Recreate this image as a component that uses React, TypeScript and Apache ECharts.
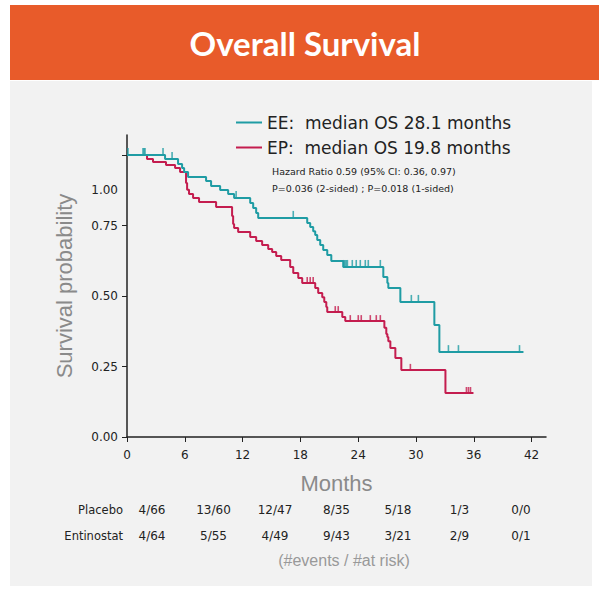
import React, { useEffect, useRef } from "react";
import * as echarts from "echarts";

// ---- Data ----
const eeName = "EE:  median OS 28.1 months";
const epName = "EP:  median OS 19.8 months";

// Kaplan-Meier step times (months) and survival after each step
const eeTimes = [0, 3.95, 5.3, 5.72, 5.93, 6.34, 8.21, 8.73, 9.67, 10.5, 11.12, 12.79, 13.1, 13.41, 13.62, 18.71, 19.02, 19.33, 19.54, 19.75, 20.06, 20.37, 20.79, 21.21, 22.45, 26.61, 27.03, 27.13, 28.38, 31.91, 32.43];
const eeSurv = [1.0, 0.986, 0.968, 0.954, 0.94, 0.922, 0.908, 0.89, 0.876, 0.862, 0.848, 0.83, 0.812, 0.794, 0.777, 0.759, 0.745, 0.73, 0.716, 0.699, 0.681, 0.663, 0.645, 0.624, 0.603, 0.567, 0.546, 0.528, 0.479, 0.397, 0.301];
const eeEnd = 41.16;
const eeCensor = [0.1, 1.66, 1.77, 1.87, 3.74, 4.68, 11.33, 17.26, 22.5, 22.62, 22.75, 22.88, 23.39, 23.8, 24.22, 24.74, 25.05, 26.3, 29.52, 30.25, 33.37, 34.41, 40.75];

const epTimes = [0, 2.08, 2.7, 4.05, 4.99, 5.51, 6.13, 6.24, 6.44, 6.86, 7.48, 9.25, 10.91, 11.02, 11.12, 11.54, 12.79, 13.41, 14.03, 14.66, 15.07, 15.49, 16.01, 16.94, 17.26, 17.78, 18.19, 19.54, 19.85, 20.27, 20.48, 20.69, 20.79, 22.35, 22.66, 26.72, 26.92, 27.03, 27.13, 27.34, 27.86, 28.48, 33.06];
const epSurv = [1.0, 0.986, 0.975, 0.965, 0.954, 0.94, 0.901, 0.877, 0.862, 0.848, 0.833, 0.816, 0.784, 0.755, 0.741, 0.727, 0.709, 0.695, 0.681, 0.667, 0.656, 0.642, 0.628, 0.603, 0.582, 0.564, 0.546, 0.528, 0.511, 0.496, 0.479, 0.461, 0.443, 0.426, 0.411, 0.387, 0.365, 0.355, 0.34, 0.316, 0.28, 0.238, 0.156];
const epEnd = 35.97;
const epCensor = [18.71, 19.02, 19.33, 21.62, 21.93, 23.18, 24.01, 24.32, 25.26, 25.88, 26.3, 29.42, 35.24, 35.45, 35.66];

const xTicks = [0, 6, 12, 18, 24, 30, 36, 42];
const yTicks = [0, 0.25, 0.5, 0.75, 1.0];
const yLabelValues = [0, 0.25, 0.5, 0.75, 0.875];
const yLabelTexts = ["0.00", "0.25", "0.50", "0.75", "1.00"];

const riskRows = ["Placebo", "Entinostat"];
const placeboRisk = ["4/66", "13/60", "12/47", "8/35", "5/18", "1/3", "0/0"];
const entinostatRisk = ["4/64", "5/55", "4/49", "9/43", "3/21", "2/9", "0/1"];

const hrText = "Hazard Ratio 0.59 (95% CI: 0.36, 0.97)";
const pText = "P=0.036 (2-sided) ; P=0.018 (1-sided)";

const TEAL = "#1f9ca4";
const RED = "#c41d4f";

function stepAt(times: number[], surv: number[], t: number) {
  let s = surv[0];
  for (let i = 0; i < times.length; i++) {
    if (times[i] <= t) s = surv[i];
  }
  return s;
}

function curve(times: number[], surv: number[], end: number) {
  const d = times.map((t, i) => [t, surv[i]]);
  d.push([end, surv[surv.length - 1]]);
  return d;
}

export default function App() {
  const ref = useRef<HTMLDivElement>(null);
  useEffect(() => {
    if (!ref.current) return;
    const chart = echarts.init(ref.current, undefined, { renderer: "svg" });
    const font = "DejaVu Sans";
    const riskGraphics: any[] = [];
    const rowsData = [placeboRisk, entinostatRisk];
    const rowY = [510, 536];
    riskRows.forEach((r, ri) => {
      riskGraphics.push({
        type: "text",
        x: 123,
        y: rowY[ri],
        style: { text: r, fill: "#222", font: `11.5px '${font}'`, align: "right", verticalAlign: "middle" },
      });
      rowsData[ri].forEach((v, i) => {
        riskGraphics.push({
          type: "text",
          x: 152 + i * 61.5,
          y: rowY[ri],
          style: { text: v, fill: "#222", font: `12px '${font}'`, align: "center", verticalAlign: "middle" },
        });
      });
    });

    chart.setOption({
      animation: false,
      backgroundColor: "#ffffff",
      graphic: [
        { type: "rect", z: -10, shape: { x: 10, y: 5, width: 589, height: 75 }, style: { fill: "#e85b2a" } },
        {
          type: "text", z: -5, x: 305, y: 43,
          style: { text: "Overall Survival", fill: "#ffffff", font: "bold 33px 'Lato'", align: "center", verticalAlign: "middle" },
        },
        { type: "rect", z: -10, shape: { x: 10, y: 81, width: 582, height: 505 }, style: { fill: "#f2f2f2" } },
        { type: "text", x: 272, y: 171, style: { text: hrText, fill: "#222", font: "9.5px 'DejaVu Sans'", verticalAlign: "middle" } },
        { type: "text", x: 272, y: 188, style: { text: pText, fill: "#222", font: "9.5px 'DejaVu Sans'", verticalAlign: "middle" } },
        {
          type: "text", x: 344, y: 560,
          style: { text: "(#events / #at risk)", fill: "#999", font: "16px 'Liberation Sans'", align: "center", verticalAlign: "middle" },
        },
        ...riskGraphics,
      ],
      legend: {
        data: [eeName, epName],
        orient: "vertical",
        left: 236,
        top: 114,
        padding: 0,
        itemGap: 8,
        itemWidth: 26,
        itemHeight: 2,
        icon: "rect",
        textStyle: { fontSize: 17, fontFamily: font, color: "#222" },
      },
      grid: { left: 127, right: 53, top: 135, bottom: 153 },
      xAxis: {
        type: "value",
        min: 0,
        max: 43.5,
        name: "Months",
        nameLocation: "middle",
        nameGap: 35,
        nameTextStyle: { fontSize: 22, color: "#8a8a8a", fontFamily: "Liberation Sans" },
        axisLine: { lineStyle: { color: "#222", width: 1.5 } },
        axisTick: { show: true, length: 5, customValues: xTicks, lineStyle: { color: "#222" } },
        axisLabel: { customValues: xTicks, color: "#222", fontSize: 12, fontFamily: font, margin: 12 },
        splitLine: { show: false },
      },
      yAxis: {
        type: "value",
        min: 0,
        max: 1.071,
        name: "Survival probability",
        nameLocation: "middle",
        nameGap: 52,
        nameTextStyle: { fontSize: 22, color: "#8a8a8a", fontFamily: "Liberation Sans" },
        axisLine: { show: true, lineStyle: { color: "#222", width: 1.5 } },
        axisTick: { show: true, length: 5, customValues: yTicks, lineStyle: { color: "#222" } },
        axisLabel: {
          customValues: yLabelValues,
          color: "#222",
          fontSize: 12,
          fontFamily: font,
          margin: 9,
          formatter: (v: number) => {
            const i = yLabelValues.findIndex((x) => Math.abs(x - v) < 1e-6);
            return i >= 0 ? yLabelTexts[i] : "";
          },
        },
        splitLine: { show: false },
      },
      series: [
        {
          name: epName,
          type: "line",
          step: "end",
          symbol: "none",
          color: RED,
          lineStyle: { color: RED, width: 2 },
          data: curve(epTimes, epSurv, epEnd),
          z: 3,
        },
        {
          name: epName + " censored",
          type: "scatter",
          symbol: "rect",
          symbolSize: [1.6, 6],
          symbolOffset: [0, -3],
          itemStyle: { color: RED },
          data: epCensor.map((t) => [t, stepAt(epTimes, epSurv, t)]),
          z: 3,
        },
        {
          name: eeName,
          type: "line",
          step: "end",
          symbol: "none",
          color: TEAL,
          lineStyle: { color: TEAL, width: 2 },
          data: curve(eeTimes, eeSurv, eeEnd),
          z: 4,
        },
        {
          name: eeName + " censored",
          type: "scatter",
          symbol: "rect",
          symbolSize: [1.6, 7],
          symbolOffset: [0, -3.5],
          itemStyle: { color: TEAL },
          data: eeCensor.map((t) => [t, stepAt(eeTimes, eeSurv, t)]),
          z: 4,
        },
      ],
    });
    return () => chart.dispose();
  }, []);
  return <div ref={ref} style={{ position: "absolute", left: 0, top: 0, width: 599, height: 590 }} />;
}
